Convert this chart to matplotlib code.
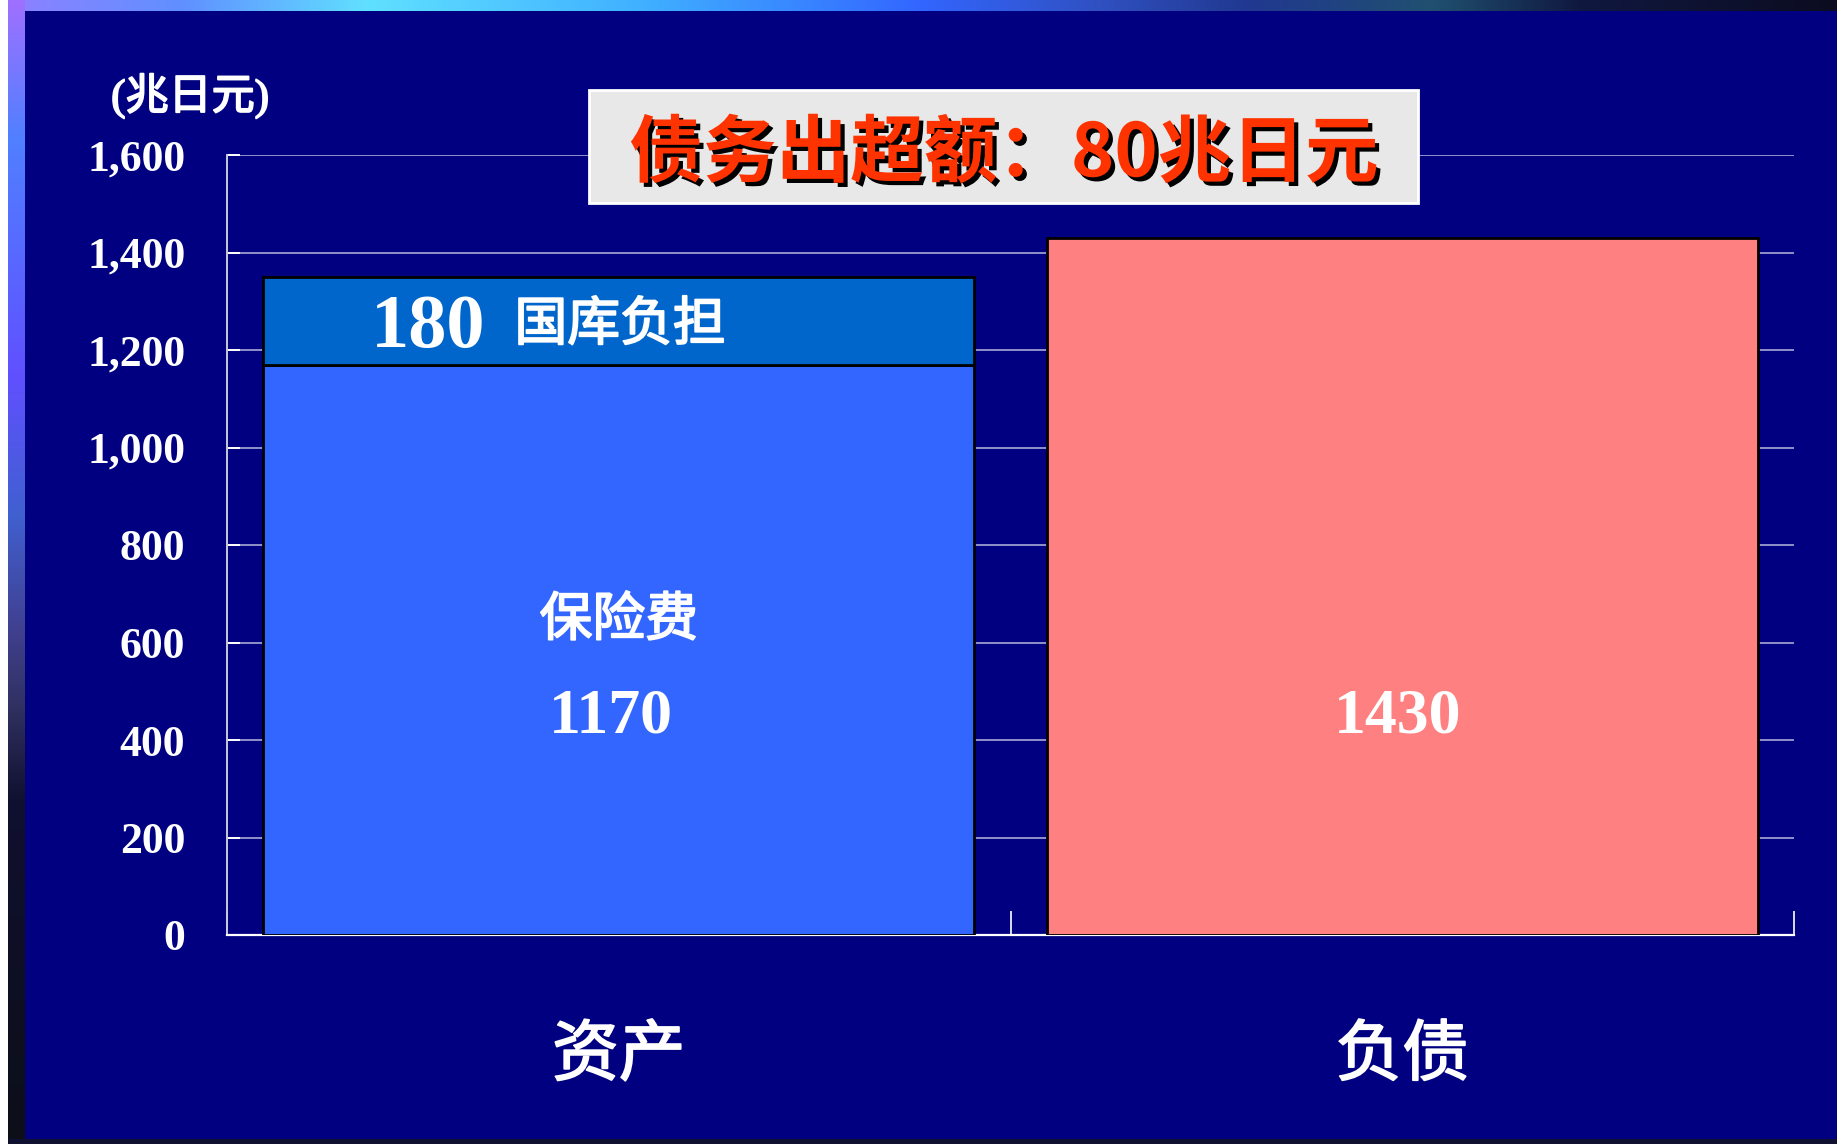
import numpy as np
import matplotlib
matplotlib.use("Agg")
import matplotlib.pyplot as plt
import matplotlib.patheffects as pe
from matplotlib.patches import Rectangle

# 数据
categories = ["资产", "负债"]
base_values = [1170, 1430]      # 保险费 / 负债
treasury_values = [180, 0]      # 国库负担
y_ticks = [0, 200, 400, 600, 800, 1000, 1200, 1400, 1600]
title_text = "债务出超额：80兆日元"
unit_text = "(兆日元)"

CJK = ["Noto Sans CJK SC", "DejaVu Sans"]
SERIF = ["Liberation Serif", "Noto Sans CJK SC"]
NAVY = "#000080"
# 中等字重效果：常规体加细描边
MED = [pe.withStroke(linewidth=1.3, foreground="white")]

W, H = 1837, 1144
fig = plt.figure(figsize=(W / 100, H / 100), dpi=100)

# ---------- 背景边框渐变 ----------
def ramp(stops, n):
    pos = np.array([s[0] for s in stops])
    cols = np.array([matplotlib.colors.to_rgb(s[1]) for s in stops])
    t = np.linspace(0, 1, n)
    return np.stack([np.interp(t, pos, cols[:, k]) for k in range(3)], axis=1)

img = np.zeros((H, W, 3))
img[:, :] = matplotlib.colors.to_rgb(NAVY)
top = ramp([(0, "#9080ff"), (0.1, "#6090ff"), (0.2, "#60e0ff"), (0.35, "#40b0ff"),
            (0.5, "#3366ff"), (0.6, "#3050c0"), (0.68, "#203890"), (0.78, "#205070"),
            (0.86, "#101840"), (1.0, "#0c0c20")], W)
img[0:11, :] = top[None, :, :]
left = ramp([(0, "#a070ff"), (0.12, "#5080ff"), (0.33, "#6050ff"), (0.45, "#4060d0"),
             (0.55, "#404090"), (0.62, "#303060"), (0.7, "#101030"), (1.0, "#0c0f18")], H)
img[:, 8:25] = left[:, None, :]
img[1139:, 8:] = matplotlib.colors.to_rgb("#101030")
img[:, 0:8] = 1.0
bg = fig.add_axes([0, 0, 1, 1])
bg.imshow(img, aspect="auto", interpolation="nearest", extent=[0, 1, 0, 1])
bg.axis("off")

# ---------- 主图 ----------
ax = fig.add_axes([227 / W, 209 / H, 1567 / W, 780 / H])
ax.set_facecolor("none")
x = np.arange(len(categories)) + 0.5
bw = 0.907
ax.bar(x[0], base_values[0], width=bw, color="#3366ff", edgecolor="black", linewidth=2, zorder=3)
ax.bar(x[0], treasury_values[0], bottom=base_values[0], width=bw, color="#0066cc",
       edgecolor="black", linewidth=2, zorder=3)
ax.bar(x[1], base_values[1], width=bw, color="#ff8080", edgecolor="black", linewidth=2, zorder=3)

ax.set_xlim(0, 2)
ax.set_ylim(0, 1600)
ax.set_yticks(y_ticks)
ax.set_yticklabels([f"{v:,}" for v in y_ticks], family=SERIF, fontweight="bold",
                   fontsize=31.5, color="white")
ax.yaxis.grid(True, color="#9090c8", linewidth=1.4)
ax.set_axisbelow(True)
ax.tick_params(axis="y", direction="in", length=9, width=1.4, color="white", pad=30)

ax.set_xticks([0, 1, 2])
ax.set_xticklabels([])
ax.tick_params(axis="x", which="major", direction="in", length=17, width=1.2, color="white")
ax.set_xticks(x, minor=True)
labs = ax.set_xticklabels(categories, minor=True, family=CJK,
                          fontsize=48, color="white")
for t in labs:
    t.set_path_effects(MED)
ax.tick_params(axis="x", which="minor", length=0, pad=63)

for s in ["top", "right"]:
    ax.spines[s].set_visible(False)
ax.spines["left"].set_color("#c8c8d8")
ax.spines["left"].set_linewidth(1.4)
ax.spines["bottom"].set_color("white")
ax.spines["bottom"].set_linewidth(1.6)

# 柱内标注
ax.text(0.2565, base_values[0] + treasury_values[0] / 2, f"{treasury_values[0]}",
        family=SERIF, fontweight="bold", fontsize=55, color="white",
        ha="center", va="center_baseline", zorder=4)
ax.text(0.5016, base_values[0] + treasury_values[0] / 2 - 8, "国库负担", family=CJK,
        fontsize=38, color="white", ha="center", va="center", zorder=4, path_effects=MED)
ax.text(0.5, 646, "保险费", family=CJK, fontsize=38,
        color="white", ha="center", va="center", zorder=4, path_effects=MED)
ax.text(0.49, 461, f"{base_values[0]}", family=SERIF, fontweight="bold", fontsize=46,
        color="white", ha="center", va="center_baseline", zorder=4)
ax.text(1.494, 461, f"{base_values[1]}", family=SERIF, fontweight="bold", fontsize=46,
        color="white", ha="center", va="center_baseline", zorder=4)

# 单位
fig.text(190 / W, 1 - 96 / H, unit_text, family=SERIF, fontsize=31,
         color="white", ha="center", va="center", path_effects=MED)

# 标题框
fig.patches.append(Rectangle((589 / W, 941 / H), 829 / W, 113 / H, transform=fig.transFigure,
                             facecolor="#e8e8e8", edgecolor="white", linewidth=2, zorder=5))
fig.text(1004 / W, 1 - 155 / H, title_text, family=CJK, fontweight="bold", fontsize=53,
         color="#ff3300", ha="center", va="center", zorder=6,
         path_effects=[pe.withSimplePatchShadow(offset=(3, -3), shadow_rgbFace="black", alpha=1.0)])

fig.savefig("out.png", dpi=100)
